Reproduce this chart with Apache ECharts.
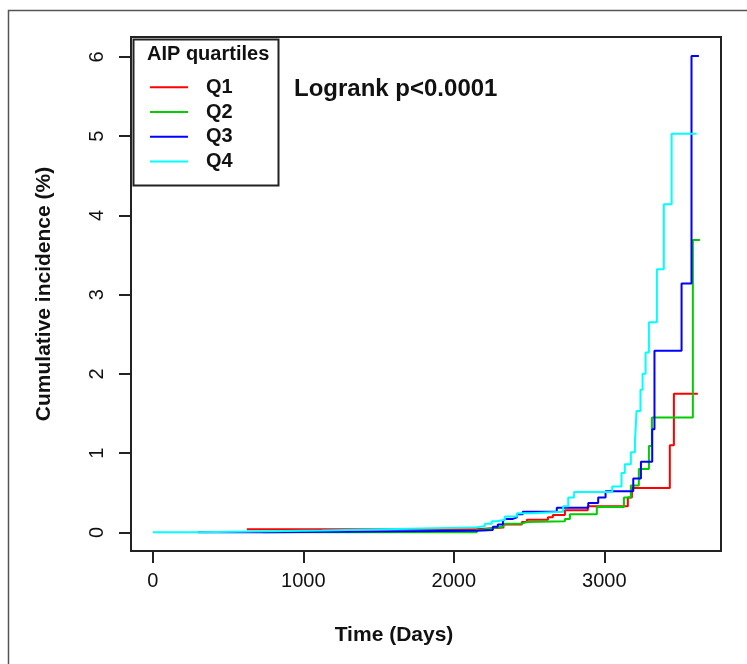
<!DOCTYPE html>
<html>
<head>
<meta charset="utf-8">
<script src="https://cdn.jsdelivr.net/npm/echarts@6/dist/echarts.min.js"></script>
<style>
html,body{margin:0;padding:0;background:#fff;}
#chart{width:747px;height:664px;}
</style>
</head>
<body>
<div id="chart"></div>
<script>
// ---- data ----
const seriesNames = ['Q1', 'Q2', 'Q3', 'Q4'];
const seriesColors = ['#FF0000', '#00CD00', '#0000FF', '#00FFFF'];

const q1Days = [625, 2150, 2330, 2452, 2485, 2625, 2658, 2738, 2890, 3156, 3183, 3435, 3462, 3621];
const q1Vals = [0.04, 0.06, 0.10, 0.13, 0.16, 0.19, 0.22, 0.28, 0.33, 0.44, 0.56, 1.10, 1.75, 1.75];

const q2Days = [731, 2153, 2186, 2239, 2326, 2452, 2485, 2738, 2771, 2950, 3130, 3176, 3229, 3296, 3316, 3588, 3635];
const q2Vals = [0, 0.03, 0.05, 0.07, 0.11, 0.13, 0.14, 0.17, 0.23, 0.32, 0.44, 0.59, 0.80, 1.09, 1.45, 3.69, 3.69];

const q3Days = [299, 731, 2153, 2259, 2292, 2326, 2339, 2392, 2419, 2458, 2684, 2893, 2959, 3008, 3192, 3243, 3318, 3333, 3513, 3579, 3628];
const q3Vals = [0, 0.02, 0.03, 0.07, 0.10, 0.14, 0.17, 0.19, 0.23, 0.26, 0.31, 0.37, 0.44, 0.52, 0.68, 0.89, 1.30, 2.29, 3.14, 6.01, 6.01];

const q4Days = [0, 299, 1123, 1528, 2140, 2206, 2252, 2286, 2339, 2419, 2518, 2726, 2760, 2799, 3052, 3114, 3136, 3176, 3203, 3214, 3240, 3254, 3274, 3296, 3349, 3395, 3447, 3613];
const q4Vals = [0, 0.025, 0.04, 0.06, 0.08, 0.11, 0.14, 0.16, 0.20, 0.24, 0.26, 0.33, 0.44, 0.51, 0.58, 0.75, 0.86, 1.01, 1.14, 1.53, 1.80, 2.0, 2.27, 2.65, 3.32, 4.14, 5.03, 5.03];

const xTicks = [0, 1000, 2000, 3000];
const yTicks = [0, 1, 2, 3, 4, 5, 6];

const xTitle = 'Time (Days)';
const yTitle = 'Cumulative incidence (%)';
const legendTitle = 'AIP quartiles';
const annotation = 'Logrank p<0.0001';

// ---- chart ----
const FONT = '"Liberation Sans", Arial, Helvetica, sans-serif';
const allDays = [q1Days, q2Days, q3Days, q4Days];
const allVals = [q1Vals, q2Vals, q3Vals, q4Vals];

const series = seriesNames.map((name, i) => ({
  name: name,
  type: 'line',
  step: 'end',
  showSymbol: false,
  symbol: 'none',
  animation: false,
  lineStyle: { color: seriesColors[i], width: 2 },
  itemStyle: { color: seriesColors[i] },
  data: allDays[i].map((d, j) => [d, allVals[i][j]])
}));

const chart = echarts.init(document.getElementById('chart'), null, { renderer: 'canvas' });
chart.setOption({
  animation: false,
  backgroundColor: '#ffffff',
  grid: {
    left: 131, top: 37, width: 590, height: 514,
    show: true, borderColor: '#222', borderWidth: 2, backgroundColor: 'transparent'
  },
  xAxis: {
    type: 'value',
    min: -145, max: 3775,
    splitLine: { show: false },
    axisLine: { show: false, onZero: false },
    axisTick: { show: true, inside: false, customValues: xTicks, length: 12, lineStyle: { color: '#222', width: 2 } },
    axisLabel: { customValues: xTicks, formatter: v => String(v), fontFamily: FONT, fontSize: 20, color: '#111', margin: 20 },
    name: xTitle,
    nameLocation: 'middle',
    nameGap: 74,
    nameTextStyle: { fontFamily: FONT, fontSize: 21, fontWeight: 'bold', color: '#111', padding: [0, 64, 0, 0] }
  },
  yAxis: {
    type: 'value',
    min: -0.235, max: 6.25,
    splitLine: { show: false },
    axisLine: { show: false, onZero: false },
    axisTick: { show: true, inside: false, customValues: yTicks, length: 12, lineStyle: { color: '#222', width: 2 } },
    axisLabel: { customValues: yTicks, formatter: v => String(v), fontFamily: FONT, fontSize: 20, color: '#111', rotate: 90, margin: 24 },
    name: yTitle,
    nameLocation: 'middle',
    nameGap: 76,
    nameRotate: 90,
    nameTextStyle: { fontFamily: FONT, fontSize: 21, fontWeight: 'bold', color: '#111' }
  },
  legend: {
    data: seriesNames,
    orient: 'vertical',
    left: 150,
    top: 75,
    icon: 'rect',
    itemWidth: 38,
    itemHeight: 2,
    itemGap: 0,
    padding: 0,
    selectedMode: false,
    textStyle: { fontFamily: FONT, fontSize: 20, fontWeight: 'bold', color: '#111', lineHeight: 24.7, padding: [0, 0, 0, 13] }
  },
  graphic: [
    { type: 'rect', left: 6, top: 8, z: 0, silent: true,
      shape: { x: 0, y: 0, width: 780, height: 700 },
      style: { fill: 'none', stroke: '#555', lineWidth: 1.5 } },
    { type: 'rect', left: 131, top: 37, z: 100, silent: true,
      shape: { x: 0, y: 0, width: 145, height: 146 },
      style: { fill: 'none', stroke: '#222', lineWidth: 2 } },
    { type: 'text', left: 147, top: 44, z: 100, silent: true,
      style: { text: legendTitle, font: 'bold 20px ' + FONT, fill: '#111' } },
    { type: 'text', left: 294, top: 77, z: 100, silent: true,
      style: { text: annotation, font: 'bold 24px ' + FONT, fill: '#111' } }
  ],
  series: series
});
</script>
</body>
</html>
